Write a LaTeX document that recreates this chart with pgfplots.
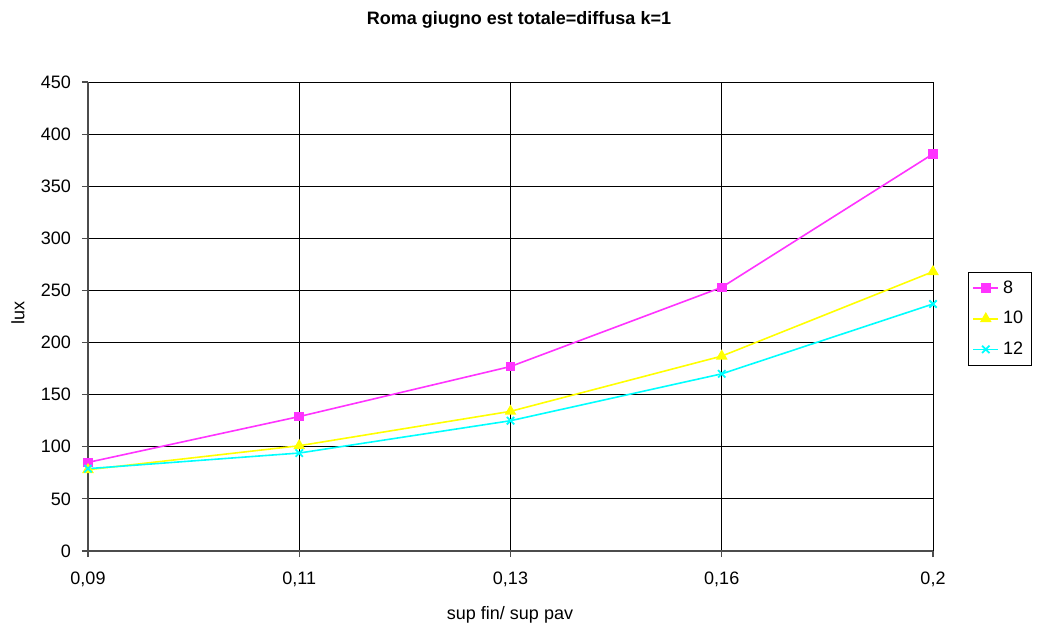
\documentclass[border=0pt]{standalone}
\usepackage{pgfplots}
\pgfplotsset{compat=1.18}
\usepackage{fontspec}
\setmainfont{Liberation Sans}
\definecolor{cmag}{HTML}{FF33FF}
\definecolor{cyel}{HTML}{FFFF00}
\definecolor{ccya}{HTML}{00FFFF}
\begin{document}
\begin{tikzpicture}
\useasboundingbox (-44pt,-38pt) rectangle (475.5pt,275.5pt);
\begin{axis}[
  at={(0,0)}, anchor=south west,
  scale only axis, width=422.5pt, height=234.5pt,
  xmin=0, xmax=4, ymin=0, ymax=450,
  xtick={0,1,2,3,4},
  xticklabels={{0,09},{0,11},{0,13},{0,16},{0,2}},
  ytick={0,50,...,450},
  axis lines*=left,
  grid=major,
  grid style={black, line width=0.5pt},
  axis line style={black!70, line width=0.6pt},
  tick align=outside, major tick length=3pt,
  tick style={black!70, line width=0.6pt},
  ticklabel style={font=\fontsize{9pt}{10pt}\selectfont},
  /pgf/number format/assume math mode=true,
  xticklabel style={yshift=-4pt},
  yticklabel style={xshift=-2pt},
  clip=false,
  legend style={at={(rel axis cs:1.0414,0.595)}, anchor=north west,
    draw=black, line width=0.5pt, font=\fontsize{9pt}{10pt}\selectfont,
    inner sep=2pt, row sep=3.5pt, cells={anchor=west}},
  legend image code/.code={
    \draw[mark repeat=2,mark phase=2] plot coordinates {(0cm,0cm) (0.22cm,0cm) (0.44cm,0cm)};},
  legend cell align=left,
]
\addplot[cmag, line width=0.8pt, mark=square*, mark size=2pt, mark options={solid}] coordinates {(0,85) (1,129) (2,177) (3,253) (4,381)};
\addlegendentry{8}
\addplot[cyel, line width=0.8pt, mark=triangle*, mark size=2.6pt] coordinates {(0,78) (1,101) (2,134) (3,187) (4,268)};
\addlegendentry{10}
\addplot[ccya, line width=0.8pt, mark=x, mark size=2.6pt, mark options={line width=0.9pt}] coordinates {(0,79) (1,94) (2,125) (3,170) (4,237)};
\addlegendentry{12}
\end{axis}
\node[font=\bfseries\fontsize{9pt}{10pt}\selectfont] at (215.5pt,265.5pt) {Roma giugno est totale=diffusa k=1};
\node[font=\fontsize{9pt}{10pt}\selectfont] at (211pt,-32pt) {sup fin/ sup pav};
\node[font=\fontsize{9pt}{10pt}\selectfont, rotate=90] at (-35pt,119pt) {lux};
\end{tikzpicture}
\end{document}
